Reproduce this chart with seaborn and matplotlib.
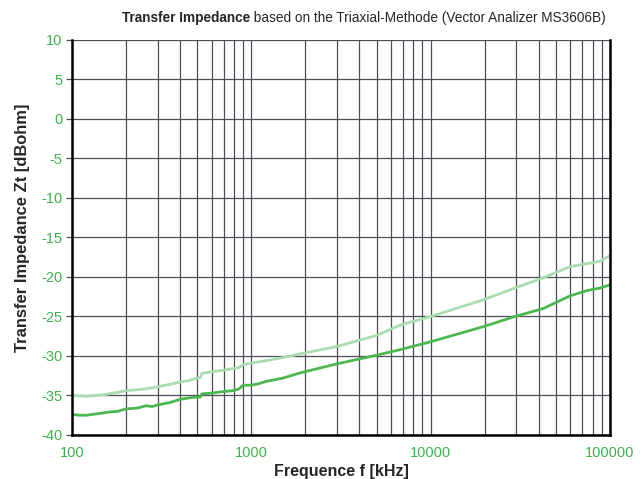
import numpy as np
import pandas as pd
import matplotlib
matplotlib.use('Agg')
import matplotlib.pyplot as plt
import seaborn as sns
from matplotlib.ticker import LogLocator, FixedLocator, NullFormatter

# light curve (upper)
freq_light = [100, 120, 150, 180, 200, 250, 300, 350, 400, 450, 500, 520, 530, 600, 700, 780,
              850, 900, 1000, 1200, 1500, 2000, 3000, 5000, 6750, 10000, 19600, 29500,
              42400, 59800, 70000, 80000, 88000, 100000]
z_light = [-35.0, -35.1, -34.9, -34.6, -34.4, -34.2, -33.9, -33.6, -33.3, -33.1, -32.8, -32.7,
           -32.2, -32.0, -31.8, -31.6, -31.5, -31.1, -30.9, -30.6, -30.2, -29.6, -28.8, -27.4,
           -26.1, -25.0, -22.9, -21.4, -20.1, -18.7, -18.4, -18.2, -18.0, -17.3]

# dark curve (lower)
freq_dark = [100, 110, 120, 140, 160, 180, 200, 230, 260, 280, 300, 350, 400, 450, 500, 520,
             530, 600, 700, 780, 850, 900, 1000, 1100, 1220, 1500, 1900, 3000, 5000, 6750,
             10000, 19600, 29500, 42400, 59800, 75000, 88000, 100000]
z_dark = [-37.4, -37.5, -37.5, -37.3, -37.1, -37.0, -36.7, -36.6, -36.3, -36.4, -36.2, -35.9,
          -35.5, -35.3, -35.2, -35.2, -34.8, -34.7, -34.5, -34.4, -34.2, -33.7, -33.7, -33.5,
          -33.2, -32.8, -32.1, -31.0, -29.9, -29.2, -28.2, -26.3, -25.0, -24.0, -22.4, -21.7,
          -21.4, -21.0]

df = pd.concat([
    pd.DataFrame({'f': freq_light, 'z': z_light, 'curve': 'light'}),
    pd.DataFrame({'f': freq_dark, 'z': z_dark, 'curve': 'dark'}),
])

sns.set_style('white')
plt.rcParams['font.family'] = ['Liberation Sans', 'DejaVu Sans']
plt.rcParams['axes.unicode_minus'] = False

fig = plt.figure(figsize=(6.4, 4.79), dpi=100)
ax = fig.add_axes([0.1125, 0.0919, 0.8405, 0.8246])

green_txt = '#3cb44b'
sns.lineplot(data=df, x='f', y='z', hue='curve',
             palette={'light': '#a9ddb1', 'dark': '#4cb84f'},
             linewidth=2.0, legend=False, ax=ax, estimator=None, sort=True)

ax.set_xscale('log')
ax.set_xlim(100, 100000)
ax.set_ylim(-40, 10)

# grid on every decade subdivision and every 5 dB
ax.xaxis.set_major_locator(FixedLocator([100, 1000, 10000, 100000]))
ax.xaxis.set_minor_locator(LogLocator(base=10, subs=np.arange(2, 10)))
ax.xaxis.set_minor_formatter(NullFormatter())
ax.set_xticklabels(['100', '1000', '10000', '100000'])
ax.set_yticks(np.arange(-40, 11, 5))
ax.grid(True, which='both', axis='x', color='#4a4f5a', linewidth=0.9)
ax.grid(True, which='major', axis='y', color='#4a4f5a', linewidth=0.9)

ax.tick_params(axis='x', which='both', length=0, labelsize=10.5, labelcolor=green_txt, pad=8)
ax.tick_params(axis='y', which='major', length=4, width=0.9, color='#4a4f5a',
               labelsize=10.5, labelcolor=green_txt, left=True, pad=3)

for side in ['left', 'bottom', 'right']:
    ax.spines[side].set_color('black')
    ax.spines[side].set_linewidth(1.8)
ax.spines['top'].set_visible(False)

ax.set_xlabel('Frequence f [kHz]', fontsize=11.5, fontweight='bold', labelpad=3)
ax.set_ylabel('Transfer Impedance Zt [dBohm]', fontsize=11.9, fontweight='bold')
ax.yaxis.set_label_coords(-0.078, 0.525)

# title: bold part followed by normal part
t1 = fig.text(0.19, 0.955, 'Transfer Impedance', fontsize=9.85, fontweight='bold',
              ha='left', va='baseline')
ax.annotate(' based on the Triaxial-Methode (Vector Analizer MS3606B)', xy=(1, 0),
            xycoords=t1, fontsize=9.85, ha='left', va='bottom', annotation_clip=False)

fig.savefig('out.png', dpi=100)
